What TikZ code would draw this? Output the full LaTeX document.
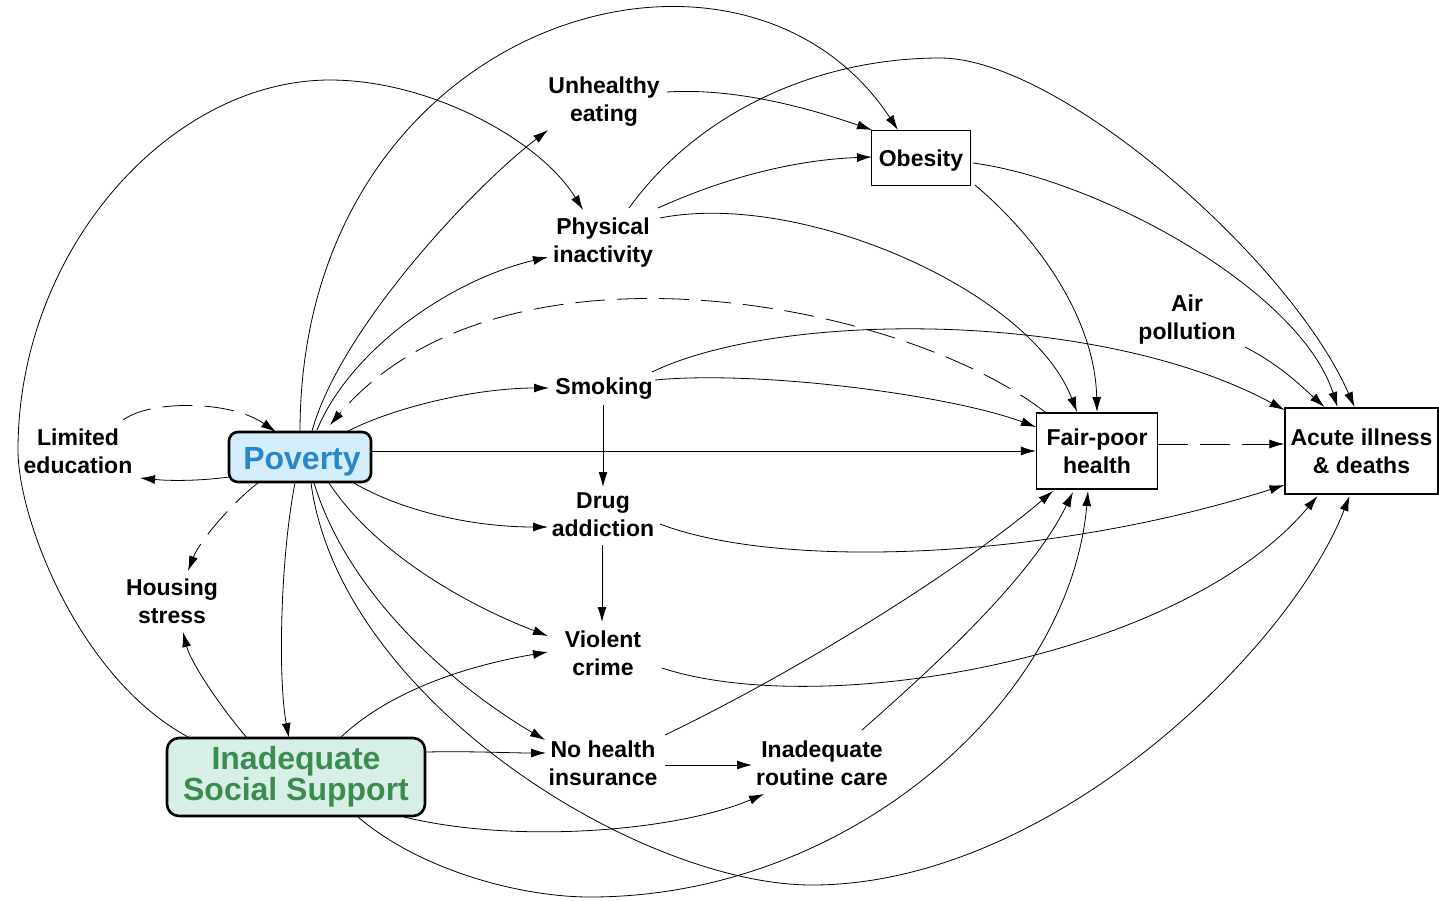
\documentclass[tikz,border=0pt]{standalone}
\usepackage{fontspec}
\setmainfont{Liberation Sans}
\usetikzlibrary{arrows.meta}
\definecolor{povblue}{RGB}{40,135,202}
\definecolor{povfill}{RGB}{212,237,250}
\definecolor{issgreen}{RGB}{60,140,82}
\definecolor{issfill}{RGB}{216,239,232}
\begin{document}
\begin{tikzpicture}[x=1pt,y=-1pt,
  lbl/.style={font=\fontsize{23}{28}\selectfont\bfseries, align=center, inner sep=0pt},
  sqbox/.style={draw, line width=1.4pt, inner sep=0pt, font=\fontsize{23}{28}\selectfont\bfseries, align=center},
  rbox/.style={draw, line width=2.6pt, rounded corners=9pt, inner sep=0pt, font=\fontsize{32}{29}\selectfont\bfseries, align=center},
  ar/.style={line width=0.8pt, -{Latex[length=15pt,width=9pt]}},
  dsh/.style={dash pattern=on 30pt off 12pt}
]
\useasboundingbox (0,0) rectangle (1439,900);
\fill[white] (0,0) rectangle (1439,900);

\node[lbl] (ue) at (604,102) {Unhealthy\\eating};
\node[sqbox, minimum width=99pt, minimum height=55pt] (ob) at (921,158) {\raisebox{-2pt}[17pt][5pt]{Obesity}};
\node[lbl] (pi) at (603,243) {Physical\\inactivity};
\node[lbl] (ap) at (1187,320) {Air\\pollution};
\node[lbl] (sm) at (604,389) {Smoking};
\node[lbl] (le) at (78,451) {Limited\\education};
\node[rbox, fill=povfill, text=povblue, minimum width=142pt, minimum height=50pt] (pov) at (300,457) {\hspace*{4pt}\raisebox{-4pt}[23pt][7pt]{Poverty}};
\node[sqbox, minimum width=121pt, minimum height=76pt] (fp) at (1097,451) {Fair-poor\\health};
\node[sqbox, minimum width=153pt, minimum height=86pt] (ai) at (1361.5,451) {Acute illness\\\& deaths};
\node[lbl] (da) at (603,515) {Drug\\addiction};
\node[lbl] (hs) at (172,601) {Housing\\stress};
\node[lbl] (vc) at (603,653) {Violent\\crime};
\node[rbox, rounded corners=12pt, fill=issfill, text=issgreen, minimum width=258pt, minimum height=78pt] (iss) at (296,777) {Inadequate\\Social Support};
\node[lbl] (nh) at (603,763) {No health\\insurance};
\node[lbl] (rc) at (822,763) {Inadequate\\routine care};

% from Poverty
\draw[ar] ([shift={(0,-25)}]pov.center) .. controls (300,20) and (740,-110) .. ([shift={(-23,-28)}]ob.center);
\draw[ar] ([shift={(12,-26)}]pov.center) .. controls (340,330) and (470,190) .. ([shift={(-56,28)}]ue.center);
\draw[ar] ([shift={(17,-27)}]pov.center) .. controls (350,350) and (450,280) .. ([shift={(-55,14)}]pi.center);
\draw[ar] ([shift={(48,-26)}]pov.center) .. controls (400,405) and (480,388) .. ([shift={(-55,-1)}]sm.center);
\draw[ar] ([shift={(-71,20)}]pov.center) .. controls (200,481) and (170,481) .. ([shift={(62,27)}]le.center);
\draw[ar,dsh] ([shift={(-42,26)}]pov.center) .. controls (235,500) and (200,540) .. ([shift={(16,-30)}]hs.center);
\draw[ar] ([shift={(-5,26)}]pov.center) .. controls (280,560) and (278,680) .. ([shift={(-7,-39)}]iss.center);
\draw[ar] ([shift={(0,-6)}]pov.east) -- (fp.west);
\draw[ar] ([shift={(54,26)}]pov.center) .. controls (400,510) and (470,527) .. ([shift={(-55,12)}]da.center);
\draw[ar] ([shift={(29,26)}]pov.center) .. controls (380,560) and (480,610) .. ([shift={(-55,-17)}]vc.center);
\draw[ar] ([shift={(14,26)}]pov.center) .. controls (350,600) and (460,690) .. ([shift={(-58,-23)}]nh.center);
\draw[ar] ([shift={(11,26)}]pov.center) .. controls (340,700) and (640,885) .. (812,885) .. controls (1050,885) and (1290,650) .. ([shift={(-12,45)}]ai.center);

% into Poverty (dashed)
\draw[ar,dsh] ([shift={(-52,-39)}]fp.center) .. controls (900,300) and (500,225) .. ([shift={(30,-32)}]pov.center);
\draw[ar,dsh] ([shift={(45,-31)}]le.center) .. controls (150,400) and (230,400) .. ([shift={(-24,-25)}]pov.center);

% from Inadequate Social Support
\draw[ar] ([shift={(-49,-39)}]iss.center) .. controls (215,700) and (190,660) .. ([shift={(11,31)}]hs.center);
\draw[ar] ([shift={(62,40)}]iss.center) .. controls (420,870) and (520,897) .. (590,897) .. controls (850,897) and (1070,700) .. ([shift={(-9,40)}]fp.center);
\draw[ar] ([shift={(-106,-39)}]iss.center) .. controls (80,680) and (18,520) .. (18,450) .. controls (18,250) and (170,80) .. (330,80) .. controls (430,80) and (540,140) .. ([shift={(-20,-33)}]pi.center);
\draw[ar] ([shift={(44,-39)}]iss.center) .. controls (390,690) and (470,665) .. ([shift={(-55,-1)}]vc.center);
\draw[ar] ([shift={(0,-25)}]iss.east) .. controls (470,751) and (510,753) .. ([shift={(-57,-10)}]nh.center);
\draw[ar] ([shift={(108,40)}]iss.center) .. controls (520,845) and (680,830) .. ([shift={(-58,31)}]rc.center);

% middle column
\draw[ar] ([shift={(63,-10)}]ue.center) .. controls (730,88) and (800,105) .. ([shift={(-49,-28)}]ob.center);
\draw[ar] ([shift={(55,-35)}]pi.center) .. controls (720,180) and (790,160) .. ([shift={(-49,-1)}]ob.center);
\draw[ar] ([shift={(57,-25)}]pi.center) .. controls (800,190) and (1030,290) .. ([shift={(-20,-39)}]fp.center);
\draw[ar] ([shift={(26,-35)}]pi.center) .. controls (700,110) and (820,58) .. (940,58) .. controls (1060,58) and (1290,260) .. ([shift={(-7,-44)}]ai.center);
\draw[ar] ([shift={(-1,16)}]sm.center) -- ([shift={(0,-28)}]da.center);
\draw[ar] ([shift={(-1,30)}]da.center) -- ([shift={(-1,-31)}]vc.center);
\draw[ar] ([shift={(48,-17)}]sm.center) .. controls (780,310) and (1100,310) .. ([shift={(-77,-41)}]ai.center);
\draw[ar] ([shift={(51,-9)}]sm.center) .. controls (760,370) and (950,395) .. ([shift={(-61,-24)}]fp.center);
\draw[ar] ([shift={(57,9)}]da.center) .. controls (780,570) and (1050,560) .. ([shift={(-77,34)}]ai.center);
\draw[ar] ([shift={(59,15)}]vc.center) .. controls (820,720) and (1180,660) .. ([shift={(-44,45)}]ai.center);
\draw[ar] ([shift={(62,-28)}]nh.center) .. controls (800,670) and (960,570) .. ([shift={(-44,40)}]fp.center);
\draw[ar] ([shift={(62,2)}]nh.center) -- ([shift={(-70,2)}]rc.center);
\draw[ar] ([shift={(40,-33)}]rc.center) .. controls (930,670) and (1030,580) .. ([shift={(-24,41)}]fp.center);

% right side
\draw[ar] ([shift={(54,27)}]ob.center) .. controls (1040,240) and (1095,320) .. ([shift={(0,-39)}]fp.center);
\draw[ar] ([shift={(52,5)}]ob.center) .. controls (1100,180) and (1300,290) .. ([shift={(-24,-44)}]ai.center);
\draw[ar] ([shift={(58,27)}]ap.center) .. controls (1280,365) and (1300,385) .. ([shift={(-37,-44)}]ai.center);
\draw[ar,dsh] ([shift={(0,-7)}]fp.east) -- ([shift={(0,-7)}]ai.west);
\end{tikzpicture}
\end{document}
